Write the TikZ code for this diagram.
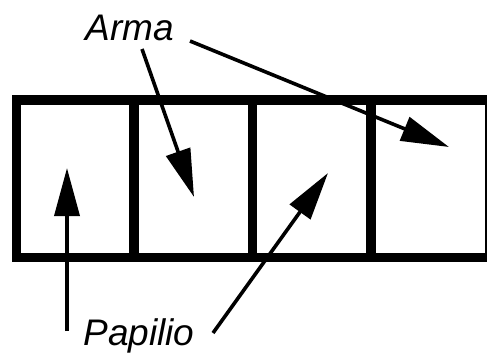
\documentclass[tikz,border=0pt]{standalone}
\usepackage{fontspec}
\setmainfont{Liberation Sans}
\usetikzlibrary{arrows.meta}
\begin{document}
\begin{tikzpicture}[x=1pt,y=-1pt,
  frame/.style={line width=9.5pt},
  pointer/.style={line width=3.6pt,-{Triangle[length=48pt,width=25pt]}},
  label/.style={font=\itshape\fontsize{37}{40}\selectfont,anchor=base,inner sep=0pt}]
\useasboundingbox (0,0) rectangle (487,357);
% the strip of four cells
\draw[frame] (16.5,100) rectangle (489.5,257.5);
\foreach \x in {134,252.5,371}
  \draw[frame] (\x,100) -- (\x,257.5);
% labels
\node[label] (arma) at (130,40) {Arma};
\node[label] (papilio) at (139,345) {Papilio};
% arrow ends
\coordinate (a1) at (142,49);
\coordinate (t1) at (194,197);
\coordinate (a2) at (190,41);
\coordinate (t2) at (449,147);
\coordinate (p1) at (67,331);
\coordinate (t3) at (67,168);
\coordinate (p2) at (213,333);
\coordinate (t4) at (328,173);
\draw[pointer] (a1) -- (t1);
\draw[pointer] (a2) -- (t2);
\draw[pointer] (p1) -- (t3);
\draw[pointer] (p2) -- (t4);
\end{tikzpicture}
\end{document}
